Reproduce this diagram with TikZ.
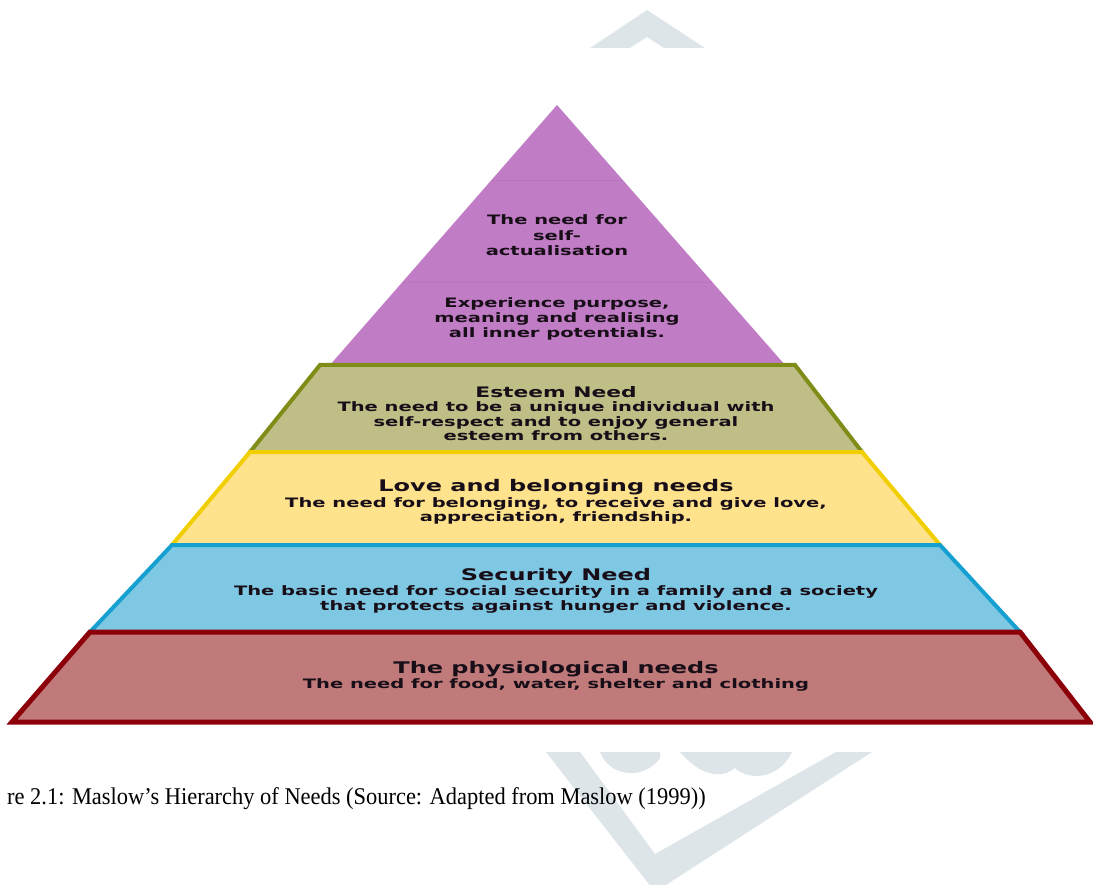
\documentclass[tikz,border=0pt]{standalone}
\usepackage{fontspec}
\newfontfamily\pyr{DejaVu Sans}[FakeStretch=1.5]
\newfontfamily\capfont{Liberation Serif}[FakeStretch=0.935]
\definecolor{purp}{RGB}{192,124,196}
\definecolor{purpline}{RGB}{184,116,188}
\definecolor{oliveF}{RGB}{190,190,134}
\definecolor{oliveB}{RGB}{128,140,24}
\definecolor{yelF}{RGB}{254,226,140}
\definecolor{yelB}{RGB}{240,206,0}
\definecolor{bluF}{RGB}{126,200,228}
\definecolor{bluB}{RGB}{22,160,210}
\definecolor{redF}{RGB}{192,122,122}
\definecolor{redB}{RGB}{140,0,10}
\definecolor{wmark}{RGB}{221,229,233}
\definecolor{txt}{RGB}{24,14,24}
\tikzset{
  band/.style={line width=4pt, line join=miter},
  ptext/.style={font=\pyr\bfseries\fontsize{13}{15}\selectfont, text=txt, anchor=base, inner sep=0pt},
  body/.style={font=\pyr\bfseries\fontsize{13}{15}\selectfont, text=txt, anchor=base, inner sep=0pt},
  head/.style={font=\pyr\bfseries\fontsize{16}{18}\selectfont, text=txt, anchor=base, inner sep=0pt},
  ehead/.style={font=\pyr\bfseries\fontsize{14.5}{17}\selectfont, text=txt, anchor=base, inner sep=0pt},
  capt/.style={font=\capfont\fontsize{24}{28}\selectfont, text=black, anchor=base west, inner sep=0pt},
}
\begin{document}
\begin{tikzpicture}[x=1pt,y=-1pt]
\useasboundingbox (0,0) rectangle (1093,885);
% watermark, top
\fill[wmark] (590,48) -- (647,10) -- (705,48) -- (664,48) -- (647,37) -- (630,48) -- cycle;
% watermark, bottom
\fill[wmark] (546,752) -- (580,752) -- (655,854) -- (836,752) -- (872,752) -- (655,892) -- cycle;
\fill[wmark] (600,752) .. controls (610,778) and (645,780) .. (660,758) -- (660,752) -- cycle;
\fill[wmark] (680,752) .. controls (700,775) and (720,780) .. (735,768) .. controls (750,782) and (780,778) .. (792,752) -- cycle;
% pyramid
\fill[purp] (557,105) -- (785,365) -- (330,365) -- cycle;
\draw[purpline, line width=0.8pt] (492,180) -- (623,180);
\draw[purpline, line width=0.8pt] (402,282) -- (712,282);
\filldraw[band, fill=oliveF, draw=oliveB] (320,365) -- (795,365) -- (862,452) -- (250,452) -- cycle;
\filldraw[band, fill=yelF, draw=yelB] (250,452) -- (862,452) -- (940,545) -- (172,545) -- cycle;
\filldraw[band, fill=bluF, draw=bluB] (172,545) -- (940,545) -- (1020,632) -- (90,632) -- cycle;
\filldraw[band, line width=5pt, fill=redF, draw=redB] (90,632) -- (1020,632) -- (1090,722) -- (12,722) -- cycle;
% texts
\node[ptext] (sa1) at (557,225) {The need for};
\node[ptext] (sa2) at (557,241) {self-};
\node[ptext] (sa3) at (557,256) {actualisation};
\node[ptext] (ex1) at (557,308) {Experience purpose,};
\node[ptext] (ex2) at (557,323) {meaning and realising};
\node[ptext] (ex3) at (557,338) {all inner potentials.};
\node[ehead] (es0) at (556,398) {Esteem Need};
\node[body] (es1) at (556,412) {The need to be a unique individual with};
\node[body] (es2) at (556,426) {self-respect and to enjoy general};
\node[body] (es3) at (556,440) {esteem from others.};
\node[head] (lo0) at (556,491) {Love and belonging needs};
\node[body] (lo1) at (556,507) {The need for belonging, to receive and give love,};
\node[body] (lo2) at (556,521) {appreciation, friendship.};
\node[head] (se0) at (556,580) {Security Need};
\node[body] (se1) at (556,595) {The basic need for social security in a family and a society};
\node[body] (se2) at (556,610) {that protects against hunger and violence.};
\node[head] (ph0) at (556,673) {The physiological needs};
\node[body] (ph1) at (556,688) {The need for food, water, shelter and clothing};
% caption
\node[capt] (cap) at (7,804) {re 2.1: Maslow’s Hierarchy of Needs (Source: Adapted from Maslow (1999))};
\end{tikzpicture}
\end{document}
